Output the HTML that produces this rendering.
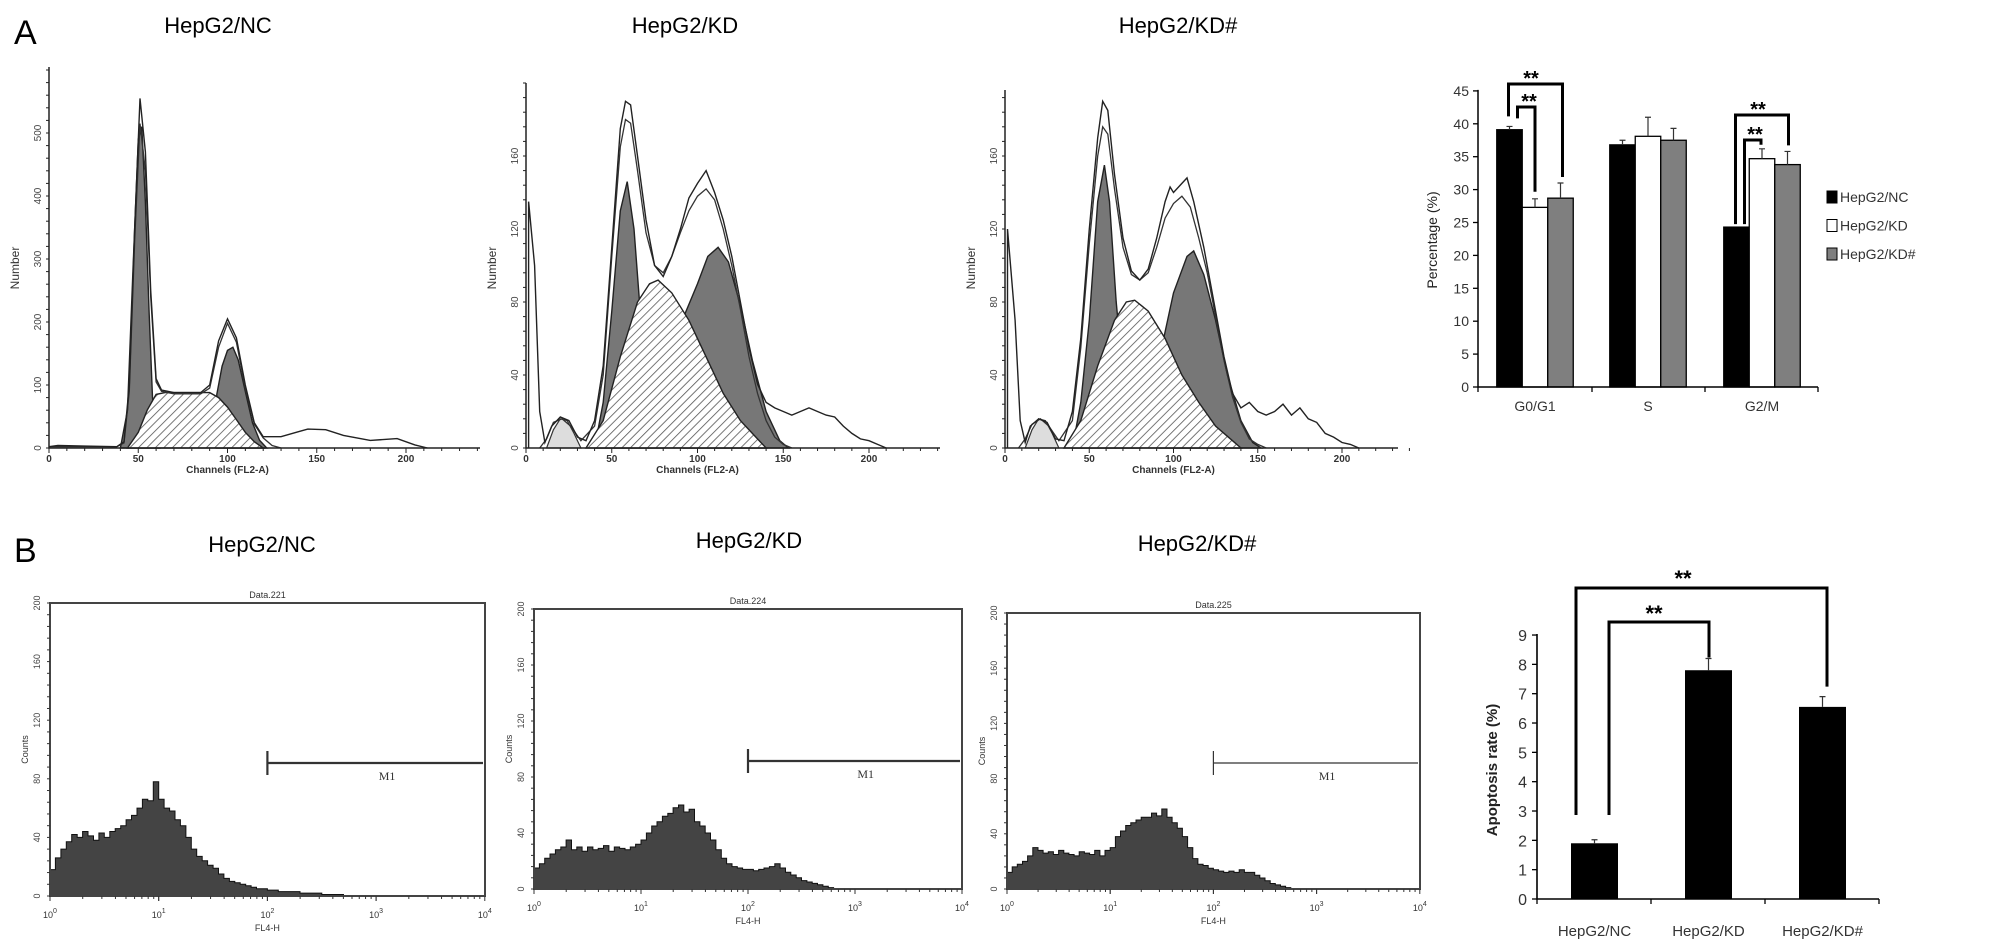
<!DOCTYPE html>
<html><head><meta charset="utf-8"><style>
html,body{margin:0;padding:0;background:#fff;}
svg{display:block;font-family:"Liberation Sans",sans-serif;}
</style></head><body>
<svg id="fig" width="2008" height="952" viewBox="0 0 2008 952" xmlns="http://www.w3.org/2000/svg">
<defs>
<pattern id="hatch" patternUnits="userSpaceOnUse" width="6" height="6" patternTransform="rotate(45)">
<rect width="6" height="6" fill="#fff"/><line x1="0" y1="0" x2="0" y2="6" stroke="#555" stroke-width="1.6"/>
</pattern>
</defs>
<text x="14" y="44" font-size="34">A</text>
<text x="14" y="562" font-size="34">B</text>
<g id="root"></g>
</svg>
<script>
// ---------- Panel A cell cycle histograms (channel, count) ----------
var a1Raw=[[0,2],[5,4],[20,3],[38,2],[42,10],[45,100],[48,350],[51,555],[54,470],[57,250],[60,110],[63,92],[70,88],[85,88],[90,100],[95,170],[100,205],[105,175],[110,100],[115,40],[120,18],[130,18],[140,26],[145,30],[155,29],[165,20],[180,12],[195,15],[205,5],[212,0]];
var a1Fit=[[0,2],[38,2],[42,8],[45,90],[48,330],[51,515],[54,440],[57,240],[60,105],[63,90],[70,86],[85,86],[90,95],[95,160],[100,198],[105,168],[110,95],[115,38],[120,16],[125,4],[130,0]];
var a1G1=[[40,0],[44,60],[47,280],[50,490],[52,510],[54,390],[56,220],[58,80],[60,10],[62,0]];
var a1S=[[44,0],[50,25],[55,60],[60,85],[65,88],[90,88],[95,80],[100,65],[105,45],[110,25],[115,10],[120,0]];
var a1G2=[[94,0],[94,85],[97,130],[100,155],[103,160],[106,140],[110,90],[114,40],[118,12],[122,0]];
var a1Deb=[];
var a2Raw=[[1.5,0],[1.5,135],[5,100],[8,20],[11,3],[15,12],[20,17],[25,15],[30,6],[35,4],[40,15],[45,45],[50,110],[55,175],[58,190],[61,188],[65,160],[70,125],[75,100],[80,94],[85,105],[90,120],[95,137],[100,145],[105,152],[110,140],[115,125],[120,105],[125,80],[130,55],[135,35],[140,25],[145,22],[150,20],[155,18],[160,20],[165,22],[170,20],[175,18],[180,17],[185,12],[190,8],[195,5],[200,4],[205,2],[210,0]];
var a2Fit=[[8,0],[12,5],[16,14],[21,16],[26,12],[32,4],[40,12],[45,40],[50,105],[55,165],[58,180],[61,178],[65,152],[70,118],[75,100],[80,96],[85,105],[90,118],[95,130],[100,138],[105,142],[110,136],[115,120],[120,100],[125,76],[130,50],[135,30],[140,15],[145,6],[150,2],[155,0]];
var a2G1=[[40,0],[45,25],[50,75],[55,130],[59,146],[63,120],[67,70],[70,40],[75,10],[80,0]];
var a2S=[[35,0],[45,15],[55,50],[65,80],[72,90],[77,92],[85,85],[95,70],[105,50],[115,30],[125,15],[135,5],[140,0]];
var a2G2=[[92,0],[92,72],[100,90],[106,105],[112,110],[118,102],[125,78],[132,48],[140,20],[148,4],[153,0]];
var a2Deb=[[12,0],[16,10],[20,16],[24,15],[28,8],[32,0]];
var a3Raw=[[1.5,0],[1.5,120],[6,70],[9,15],[12,3],[15,12],[20,16],[25,14],[30,5],[35,4],[40,20],[45,60],[50,120],[55,170],[58,190],[61,185],[65,150],[70,115],[75,97],[80,92],[85,98],[90,115],[95,135],[98,143],[100,140],[105,145],[108,148],[112,135],[118,110],[125,75],[130,50],[135,30],[140,22],[145,25],[150,20],[155,18],[160,20],[165,24],[170,18],[175,22],[180,16],[185,14],[190,8],[195,6],[200,3],[205,2],[210,0]];
var a3Fit=[[8,0],[12,5],[16,13],[21,16],[26,12],[32,4],[40,15],[45,55],[50,112],[55,160],[58,176],[61,172],[65,142],[70,110],[75,95],[80,92],[85,96],[90,110],[95,126],[100,134],[105,138],[110,132],[115,115],[120,96],[125,72],[130,48],[135,28],[140,14],[145,5],[150,2],[155,0]];
var a3G1=[[40,0],[45,25],[50,70],[55,135],[59,155],[62,135],[66,80],[70,40],[75,10],[80,0]];
var a3S=[[35,0],[45,15],[55,45],[65,70],[72,80],[77,81],[85,75],[95,60],[105,40],[115,25],[125,12],[135,4],[140,0]];
var a3G2=[[92,0],[93,55],[100,85],[108,105],[112,108],[118,95],[125,70],[132,40],[140,15],[147,3],[152,0]];
var a3Deb=[[12,0],[16,10],[20,16],[24,15],[28,8],[32,0]];
var histTitles=["HepG2/NC","HepG2/KD","HepG2/KD#"];
var a1YTicks=[0,100,200,300,400,500];
var a23YTicks=[0,40,80,120,160];
var aXTicks=[0,50,100,150,200];

// ---------- Panel B apoptosis histograms (counts every 0.05 decade from 10^0) ----------
var bNC=[18,26,32,37,42,40,44,41,38,43,40,44,46,48,52,55,60,66,65,78,66,60,58,52,48,40,32,27,24,21,19,15,12,10,9,8,7,6,5,5,4,4,3,3,3,3,2,2,2,2,1,1,1,1,0,0,0,0,0,0,0];
var bKD=[15,18,22,25,28,30,35,28,30,27,30,28,29,31,27,30,29,28,30,32,35,40,45,48,52,54,58,60,55,57,48,45,40,35,28,22,18,16,15,14,14,13,14,15,16,18,15,12,10,8,6,5,4,3,2,1,0,0,0,0,0];
var bKD2=[12,16,18,20,24,30,28,26,27,25,28,26,25,24,27,26,25,28,24,28,30,38,42,46,48,50,52,52,55,53,58,52,48,44,38,30,22,18,17,15,14,13,12,13,12,14,12,12,10,8,6,4,3,2,1,0,0,0,0,0,0];
var bDataNames=["Data.221","Data.224","Data.225"];
var bYTicks=[0,40,80,120,160,200];
var bXExp=["0","1","2","3","4"];

// ---------- Cell cycle bar chart ----------
var phases=["G0/G1","S","G2/M"];
var groups=["HepG2/NC","HepG2/KD","HepG2/KD#"];
var ccNC=[39.1,36.8,24.3];
var ccKD=[27.3,38.1,34.7];
var ccKD2=[28.7,37.5,33.8];
var ccErrNC=[0.5,0.7,0];
var ccErrKD=[1.3,2.9,1.5];
var ccErrKD2=[2.3,1.8,2.0];
var ccTicks=[0,5,10,15,20,25,30,35,40,45];

// ---------- Apoptosis bar chart ----------
var apCats=["HepG2/NC","HepG2/KD","HepG2/KD#"];
var apVals=[1.9,7.8,6.55];
var apErr=[0.12,0.4,0.35];
var apTicks=[0,1,2,3,4,5,6,7,8,9];

var NS="http://www.w3.org/2000/svg";
var root=document.getElementById('root');
function el(tag,attrs,parent,txt){var e=document.createElementNS(NS,tag);for(var k in attrs)e.setAttribute(k,attrs[k]);if(txt!==undefined)e.textContent=txt;(parent||root).appendChild(e);return e;}

// ===== Panel A histograms =====
var aCfg=[
 {ox:49,oy:448,sx:1.785,sy:0.63,top:67,xend:480,tx:218,raw:a1Raw,fit:a1Fit,g1:a1G1,s:a1S,g2:a1G2,deb:a1Deb,yt:a1YTicks,minor:20},
 {ox:526,oy:448,sx:1.715,sy:1.825,top:83,xend:940,tx:685,raw:a2Raw,fit:a2Fit,g1:a2G1,s:a2S,g2:a2G2,deb:a2Deb,yt:a23YTicks,minor:8},
 {ox:1005,oy:448,sx:1.685,sy:1.825,top:90,xend:1398,tx:1178,raw:a3Raw,fit:a3Fit,g1:a3G1,s:a3S,g2:a3G2,deb:a3Deb,yt:a23YTicks,minor:8}
];
aCfg.forEach(function(c,pi){
  var g=el('g',{});
  
  
  function X(v){return c.ox+v*c.sx;}
  function Y(v){return c.oy-v*c.sy;}
  function pts(arr){return arr.map(function(p){return X(p[0]).toFixed(1)+','+Y(p[1]).toFixed(1);}).join(' ');}
  function area(arr){return X(arr[0][0]).toFixed(1)+','+c.oy+' '+pts(arr)+' '+X(arr[arr.length-1][0]).toFixed(1)+','+c.oy;}
  var t=el('text',{x:c.tx,y:33,'font-size':22,'text-anchor':'middle'},g,histTitles[pi]);
  
  
  if(c.deb.length){var d=el('polygon',{points:area(c.deb),fill:'#ddd',stroke:'#333','stroke-width':1.2},g);
    
    }
  var p1=el('polygon',{points:area(c.g1),fill:'#777',stroke:'#222','stroke-width':1.4},g);
  
  
  var p2=el('polygon',{points:area(c.g2),fill:'#777',stroke:'#222','stroke-width':1.4},g);
  
  
  var ps=el('polygon',{points:area(c.s),fill:'url(#hatch)',stroke:'#222','stroke-width':1.4},g);
  
  
  var lf=el('polyline',{points:pts(c.fit),fill:'none',stroke:'#333','stroke-width':1.3},g);
  
  
  var lr=el('polyline',{points:pts(c.raw),fill:'none',stroke:'#222','stroke-width':1.4},g);
  
  
  var ax=el('path',{d:'M'+c.ox+','+c.top+'V'+c.oy+'H'+c.xend,fill:'none',stroke:'#222','stroke-width':1.5},g);
  
  
  for(var v=0;v<=240;v+=10){var tk=el('line',{x1:X(v),x2:X(v),y1:c.oy,y2:c.oy+(v%50==0?5:3),stroke:'#222','stroke-width':1},g);
    
    }
  aXTicks.forEach(function(v){var l=el('text',{x:X(v),y:c.oy+14,'font-size':10,'font-weight':'bold','text-anchor':'middle',fill:'#333'},g,String(v));
    
    });
  var xt=el('text',{x:X(100),y:c.oy+25,'font-size':10,'font-weight':'bold','text-anchor':'middle',fill:'#333'},g,'Channels (FL2-A)');
  
  
  var maxv=(c.oy-c.top)/c.sy;
  for(var w=0;w<=maxv;w+=c.minor){var yk=el('line',{x1:c.ox-3,x2:c.ox,y1:Y(w),y2:Y(w),stroke:'#222','stroke-width':1},g);
    
    }
  c.yt.forEach(function(v){var l=el('text',{x:c.ox-8,y:Y(v),'font-size':10,'text-anchor':'middle',fill:'#444',transform:'rotate(-90 '+(c.ox-8)+' '+Y(v)+')'},g,String(v));
    
    });
  var yt=el('text',{x:c.ox-30,y:268,'font-size':12,'text-anchor':'middle',fill:'#333',transform:'rotate(-90 '+(c.ox-30)+' 268)'},g,'Number');
  
  
});

// ===== Panel B histograms =====
var bCfg=[
 {l:50,r:485,t:603,b:896,dec:108.7,tx:262,ty:552,m1y:763,data:bNC},
 {l:534,r:962,t:609,b:889,dec:107,tx:749,ty:548,m1y:761,data:bKD},
 {l:1007,r:1420,t:613,b:889,dec:103.2,tx:1197,ty:551,m1y:763,data:bKD2}
];
bCfg.forEach(function(c,pi){
  var g=el('g',{});
  
  
  var sy=(c.b-c.t)/200;
  function X(lg){return c.l+lg*c.dec;}
  function Y(v){return c.b-v*sy;}
  var t=el('text',{x:c.tx,y:c.ty,'font-size':22,'text-anchor':'middle'},g,histTitles[pi]);
  
  
  var dn=el('text',{x:(c.l+c.r)/2,y:c.t-5,'font-size':9,'text-anchor':'middle',fill:'#333'},g,bDataNames[pi]);
  
  
  var pts=c.l+','+c.b;
  c.data.forEach(function(v,i){var x0=X(i*0.05),x1=X((i+1)*0.05);pts+=' '+x0.toFixed(1)+','+Y(v).toFixed(1)+' '+x1.toFixed(1)+','+Y(v).toFixed(1);});
  pts+=' '+X(c.data.length*0.05).toFixed(1)+','+c.b;
  var h=el('polygon',{points:pts,fill:'#444',stroke:'#111','stroke-width':1},g);
  
  
  var box=el('rect',{x:c.l,y:c.t,width:c.r-c.l,height:c.b-c.t,fill:'none',stroke:'#444','stroke-width':2},g);
  
  
  for(var d=0;d<4;d++){for(var k=1;k<=10;k++){var x=X(d+Math.log10(k));var tk=el('line',{x1:x,x2:x,y1:c.b,y2:c.b+(k==1||k==10?5:3),stroke:'#333','stroke-width':1},g);
    
    }}
  bXExp.forEach(function(e,i){var l=el('text',{x:X(i),y:c.b+22,'font-size':9,'text-anchor':'middle',fill:'#333'},g);
    
    
    var a=el('tspan',{},l,'10');var b=el('tspan',{dy:-5,'font-size':7},l,e);});
  var xt=el('text',{x:X(2),y:c.b+35,'font-size':9,'text-anchor':'middle',fill:'#333'},g,'FL4-H');
  
  
  for(var w=0;w<=200;w+=8){var yk=el('line',{x1:c.l-3,x2:c.l,y1:Y(w),y2:Y(w),stroke:'#333','stroke-width':1},g);
    
    }
  bYTicks.forEach(function(v){var l=el('text',{x:c.l-10,y:Y(v),'font-size':9,'text-anchor':'middle',fill:'#444',transform:'rotate(-90 '+(c.l-10)+' '+Y(v)+')'},g,String(v));
    
    });
  var yt=el('text',{x:c.l-22,y:Y(100),'font-size':9,'text-anchor':'middle',fill:'#333',transform:'rotate(-90 '+(c.l-22)+' '+Y(100)+')'},g,'Counts');
  
  
  var m=el('path',{d:'M'+X(2)+','+(c.m1y-12)+'V'+(c.m1y+12)+'M'+X(2)+','+c.m1y+'H'+(c.r-2),stroke:'#333','stroke-width':pi==2?1.2:2.2,fill:'none'},g);
  
  
  var mt=el('text',{x:X(2)+(c.r-X(2))*0.55,y:c.m1y+17,'font-size':12,'font-family':'Liberation Serif, serif','text-anchor':'middle',fill:'#333'},g,'M1');
  
  
});

// ===== Cell cycle bar chart =====
(function(){
  var g=el('g',{});
  
  
  var ox=1478,oy=387,ppu=6.58,bw=25.5,xend=1818;
  var centers=[1535,1648,1762];
  function Y(v){return oy-v*ppu;}
  var series=[ccNC,ccKD,ccKD2],errs=[ccErrNC,ccErrKD,ccErrKD2],fills=['#000','#fff','#7f7f7f'];
  var names=['nc','kd','kd2'];
  var tops=[];
  phases.forEach(function(ph,i){tops.push([]);
    series.forEach(function(s,j){
      var x=centers[i]+(j-1.5)*bw, v=s[i], e=errs[j][i];
      var r=el('rect',{x:x,y:Y(v),width:bw,height:v*ppu,fill:fills[j],stroke:'#000','stroke-width':1.3},g);
      
      
      if(e>0){var eb=el('path',{d:'M'+(x+bw/2)+','+Y(v)+'V'+Y(v+e)+'M'+(x+bw/2-3)+','+Y(v+e)+'H'+(x+bw/2+3),stroke:'#333','stroke-width':1.2,fill:'none'},g);
        
        }
      tops[i].push({cx:x+bw/2,y:Y(v+e)});
    });
  });
  var ax=el('path',{d:'M'+ox+','+(Y(45)-1)+'V'+oy+'H'+xend,stroke:'#000','stroke-width':1.5,fill:'none'},g);
  
  
  [ox,1592,1705,xend].forEach(function(x){var tk=el('line',{x1:x,x2:x,y1:oy,y2:oy+5,stroke:'#000','stroke-width':1.3},g);
    
    });
  ccTicks.forEach(function(v){
    var tk=el('line',{x1:ox-5,x2:ox,y1:Y(v),y2:Y(v),stroke:'#000','stroke-width':1.3},g);
    
    
    var l=el('text',{x:ox-9,y:Y(v)+5,'font-size':14,'text-anchor':'end',fill:'#333'},g,String(v));
    
    });
  phases.forEach(function(ph,i){var l=el('text',{x:centers[i],y:411,'font-size':14,'text-anchor':'middle',fill:'#333'},g,ph);
    
    });
  var yt=el('text',{x:1437,y:240,'font-size':14,'text-anchor':'middle',fill:'#222',transform:'rotate(-90 1437 240)'},g,'Percentage (%)');
  
  
  groups.forEach(function(n,j){
    var sq=el('rect',{x:1827,y:191+j*28.5,width:10,height:12,fill:fills[j],stroke:'#000','stroke-width':1},g);
    
    
    var lt=el('text',{x:1840,y:202+j*28.5,'font-size':14,fill:'#333'},g,n);
    
    });
  function bracket(x1,y1,x2,y2,yb,sx,sy,nm){
    var p=el('path',{d:'M'+x1+','+y1+'V'+yb+'H'+x2+'V'+y2,stroke:'#000','stroke-width':3,fill:'none'},g);
    
    
    var s=el('text',{x:sx,y:sy,'font-size':20,'font-weight':'bold','text-anchor':'middle'},g,'**');
    
    }
  var T=tops;
  bracket(T[0][0].cx-1,T[0][0].y-10,T[0][2].cx+2,T[0][2].y-6,84,1531,85,'significance-g0g1-nc-kd2');
  bracket(T[0][0].cx+8,T[0][0].y-8,T[0][1].cx,T[0][1].y-7,107,1529,108,'significance-g0g1-nc-kd');
  bracket(T[2][0].cx-1,T[2][0].y-3,T[2][2].cx+1,T[2][2].y-6,115,1758,116,'significance-g2m-nc-kd2');
  bracket(T[2][0].cx+8,T[2][0].y-3,T[2][1].cx-1,T[2][1].y-4,140,1755,141,'significance-g2m-nc-kd');
})();

// ===== Apoptosis bar chart =====
(function(){
  var g=el('g',{});
  
  
  var ox=1537,oy=899,ppu=29.33,bw=47,xend=1879;
  var centers=[1594.5,1708.5,1822.5];
  function Y(v){return oy-v*ppu;}
  var tops=[];
  apCats.forEach(function(c,i){
    var v=apVals[i],e=apErr[i],x=centers[i]-bw/2;
    var r=el('rect',{x:x,y:Y(v),width:bw,height:v*ppu,fill:'#000'},g);
    
    
    var eb=el('path',{d:'M'+centers[i]+','+Y(v)+'V'+Y(v+e)+'M'+(centers[i]-3)+','+Y(v+e)+'H'+(centers[i]+3),stroke:'#333','stroke-width':1.2,fill:'none'},g);
    
    
    tops.push(Y(v+e));
    var l=el('text',{x:centers[i],y:936,'font-size':15,'text-anchor':'middle',fill:'#333'},g,c);
    
    });
  var ax=el('path',{d:'M'+ox+','+(Y(9)-1)+'V'+oy+'H'+xend,stroke:'#000','stroke-width':1.6,fill:'none'},g);
  
  
  [ox,1651,1765,xend].forEach(function(x){var tk=el('line',{x1:x,x2:x,y1:oy,y2:oy+5,stroke:'#000','stroke-width':1.3},g);
    
    });
  apTicks.forEach(function(v){
    var tk=el('line',{x1:ox-5,x2:ox,y1:Y(v),y2:Y(v),stroke:'#000','stroke-width':1.3},g);
    
    
    var l=el('text',{x:ox-10,y:Y(v)+6,'font-size':16,'text-anchor':'end',fill:'#333'},g,String(v));
    
    });
  var yt=el('text',{x:1497,y:770,'font-size':15,'font-weight':'bold','text-anchor':'middle',fill:'#222',transform:'rotate(-90 1497 770)'},g,'Apoptosis rate (%)');
  
  
  function bracket(x1,y1,x2,y2,yb,sx,sy,nm){
    var p=el('path',{d:'M'+x1+','+y1+'V'+yb+'H'+x2+'V'+y2,stroke:'#000','stroke-width':3,fill:'none'},g);
    
    
    var s=el('text',{x:sx,y:sy,'font-size':22,'font-weight':'bold','text-anchor':'middle'},g,'**');
    
    }
  bracket(1576,815,1827,tops[2]-10,588,1683,586,'significance-nc-kd2');
  bracket(1609,815,1709,tops[1]-1,622,1654,621,'significance-nc-kd');
})();
</script>
</body></html>
